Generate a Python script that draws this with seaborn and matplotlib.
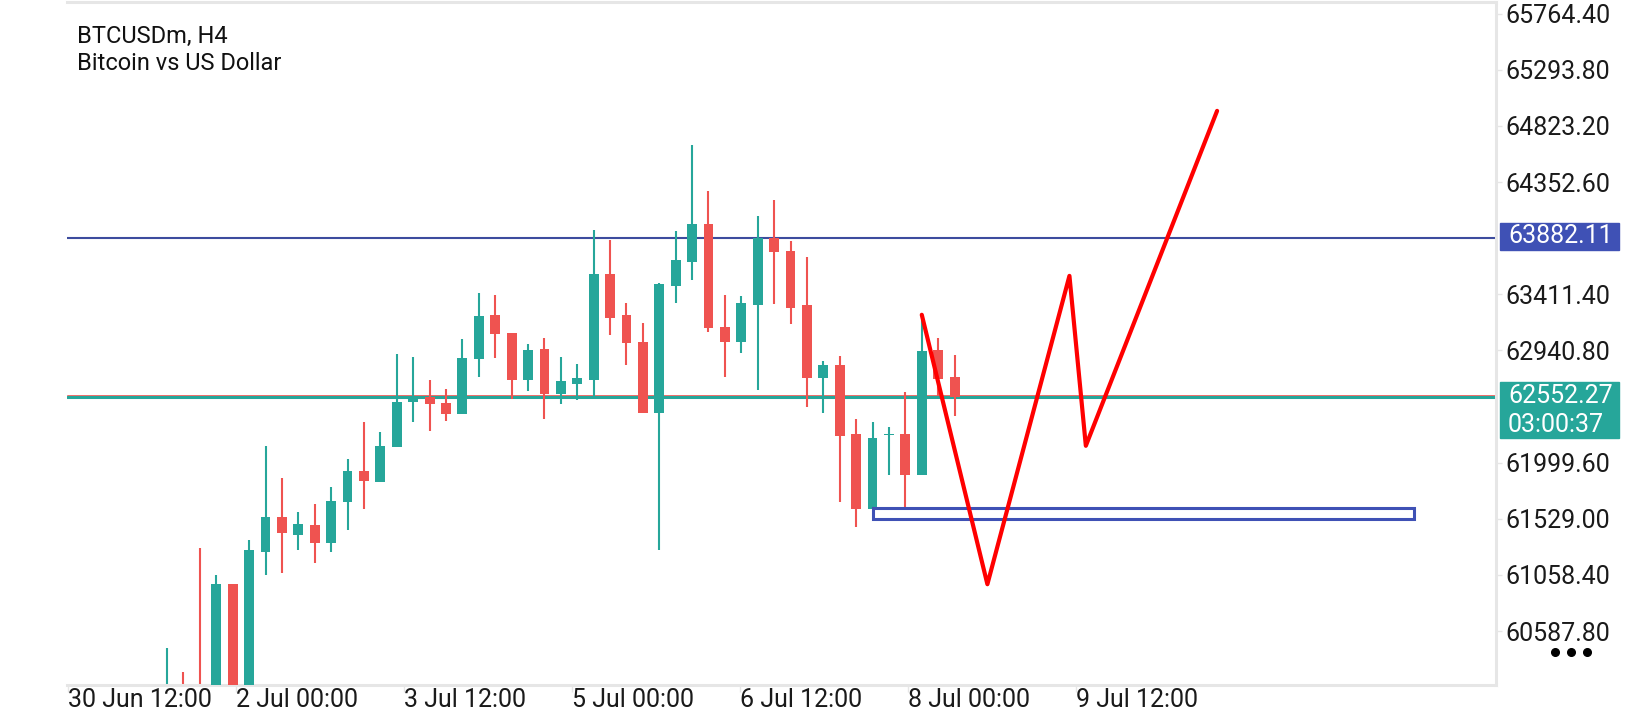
import matplotlib
matplotlib.use("Agg")
import matplotlib.pyplot as plt
import matplotlib.transforms as mtransforms
from matplotlib.patches import Rectangle
from matplotlib.lines import Line2D
import seaborn as sns
import pandas as pd
import numpy as np

# Bougies H4 BTCUSDm (index de bougie en x)
opens = [59700, 60080, 60090, 59950, 60983, 60000, 61254, 61546, 61397, 61477,
         61328, 61667, 61931, 61841, 62127, 62506, 62552, 62503, 62404, 62866,
         63234, 63083, 62690, 62956, 62577, 62662, 62690, 63579, 63234, 63015,
         62412, 63481, 63683, 64000, 63141, 63010, 63321, 63882, 63773, 63321,
         62707, 62821, 62241, 61612, 62228, 62236, 61900, 62941, 62714]
highs = [60444, 60246, 61285, 61055, 60983, 61353, 62142, 61872, 61586, 61654,
         61797, 62034, 62344, 62260, 62907, 62888, 62695, 62621, 63040, 63419,
         63402, 63083, 62998, 63049, 62889, 62830, 63949, 63865, 63335, 63175,
         63503, 63941, 64662, 64275, 63402, 63394, 64067, 64202, 63860, 63722,
         62852, 62897, 62370, 62342, 62302, 62595, 63200, 63042, 62899]
lows = [59600, 59700, 59850, 59900, 59950, 59980, 61061, 61077, 61263, 61160,
        61254, 61431, 61614, 61841, 62127, 62338, 62264, 62347, 62404, 62721,
        62875, 62530, 62597, 62370, 62493, 62521, 62552, 63068, 62816, 62412,
        61265, 63338, 63531, 63096, 62721, 62917, 62606, 63329, 63161, 62468,
        62412, 61666, 61461, 61612, 61894, 61630, 61900, 62560, 62393]
closes = [60050, 59800, 59900, 60983, 60000, 61269, 61546, 61406, 61487, 61328,
          61679, 61931, 61850, 62142, 62512, 62559, 62490, 62406, 62880, 63226,
          63077, 62690, 62948, 62577, 62681, 62712, 63579, 63217, 63001, 62412,
          63495, 63697, 64000, 63127, 63010, 63335, 63882, 63767, 63296, 62707,
          62821, 62227, 61612, 62207, 62238, 61895, 62938, 62700, 62552.27]

# Niveaux et dessins
level_resistance = 63882.11
level_bid = 62552.27
countdown = "03:00:37"
zone_x = [43, 76]
zone_y = [61527, 61619]
path_x = [46, 50, 55, 56, 64]
path_y = [63240, 60980, 63566, 62141, 64950]

# Axes
price_ticks = [65764.40, 65293.80, 64823.20, 64352.60, 63411.40, 62940.80,
               61999.60, 61529.00, 61058.40, 60587.80]
time_pos = [-6.03, 4.2, 14.44, 24.66, 34.9, 45.14, 55.37]
time_labels = ["30 Jun 12:00", "2 Jul 00:00", "3 Jul 12:00", "5 Jul 00:00",
               "6 Jul 12:00", "8 Jul 00:00", "9 Jul 12:00"]

UP = "#26A69A"
DOWN = "#EF5350"
BLUE = "#3F51B5"
FRAME = "#E6E6E6"

df = pd.DataFrame({"open": opens, "high": highs, "low": lows, "close": closes})
df["idx"] = np.arange(len(df))
df["color"] = np.where(df["close"] >= df["open"], UP, DOWN)
df["bottom"] = df[["open", "close"]].min(axis=1)
df["height"] = (df["close"] - df["open"]).abs().clip(lower=15)

sns.set_theme(style="white")
plt.rcParams["font.family"] = ["Roboto", "DejaVu Sans"]

fig = plt.figure(figsize=(16.4, 7.2), dpi=100)
ax = fig.add_axes([67 / 1640, 1 - 685 / 720, (1496 - 67) / 1640, 683 / 720])

ax.set_xlim(-6.1, 81.0)
ax.set_ylim(60135, 65863)

# lignes horizontales
ax.axhline(level_resistance, color="#3D4C9E", lw=1.5, zorder=1)
ax.axhline(level_bid + 12, color=DOWN, lw=0.6, zorder=1)
ax.axhline(level_bid, color=UP, lw=2.2, zorder=1)

# bougies
ax.vlines(df["idx"], df["low"], df["high"], colors=df["color"], lw=1.5, zorder=2)
ax.bar(df["idx"], df["height"], bottom=df["bottom"], width=0.6,
       color=df["color"], linewidth=0, zorder=3)

# zone
ax.add_patch(Rectangle((zone_x[0], zone_y[0]), zone_x[1] - zone_x[0],
                       zone_y[1] - zone_y[0], fill=False, ec=BLUE, lw=2.2, zorder=4))

# trajectoire prévue
sns.lineplot(x=path_x, y=path_y, sort=False, color="#FF0000", lw=3.0, ax=ax, zorder=5)

# style des axes
for s in ["top", "right", "bottom"]:
    ax.spines[s].set_color(FRAME)
    ax.spines[s].set_linewidth(2.2)
ax.spines["left"].set_visible(False)

ax.yaxis.tick_right()
ax.set_yticks(price_ticks)
ax.set_yticklabels([f"{v:.2f}" for v in price_ticks])
ax.tick_params(axis="y", which="both", right=True, left=False, length=4, width=1,
               color=FRAME, labelsize=18, pad=3, labelcolor="#1a1a1a")

ax.set_xticks(time_pos)
ax.set_xticklabels(time_labels, ha="left")
ax.tick_params(axis="x", bottom=True, length=5, width=1, color=FRAME,
               labelsize=18, pad=-3, labelcolor="#1a1a1a")

ax.grid(False)

# étiquettes de prix à droite
trans = mtransforms.blended_transform_factory(ax.transAxes, ax.transData)
bx0 = (1500 - 67) / 1429
bw = 119 / 1429
ax.add_patch(Rectangle((bx0, level_resistance - 100), bw, 230, transform=trans,
                       color=BLUE, clip_on=False, zorder=6))
ax.text(bx0 + 8 / 1429, level_resistance + 15, f"{level_resistance:.2f}", transform=trans,
        color="white", fontsize=18, va="center", ha="left", clip_on=False, zorder=7)
ax.add_patch(Rectangle((bx0, level_bid - 344), bw, 471, transform=trans,
                       color=UP, clip_on=False, zorder=6))
ax.text(bx0 + 8 / 1429, level_bid + 5, f"{level_bid:.2f}", transform=trans,
        color="white", fontsize=18, va="center", ha="left", clip_on=False, zorder=7)
ax.text(bx0 + 8 / 1429, level_bid - 235, countdown, transform=trans,
        color="white", fontsize=18, va="center", ha="left", clip_on=False, zorder=7)

# titre
fig.text(77 / 1640, 1 - 43 / 720, "BTCUSDm, H4", fontsize=17, color="#111111", va="baseline")
fig.text(77 / 1640, 1 - 70 / 720, "Bitcoin vs US Dollar", fontsize=17, color="#111111",
         va="baseline")

# menu (trois points)
fig.add_artist(Line2D([1555 / 1640, 1571 / 1640, 1587 / 1640], [1 - 652 / 720] * 3,
                      transform=fig.transFigure, ls="none", marker="o", ms=5.5,
                      mfc="black", mec="black"))

fig.savefig("out.png", dpi=100)
